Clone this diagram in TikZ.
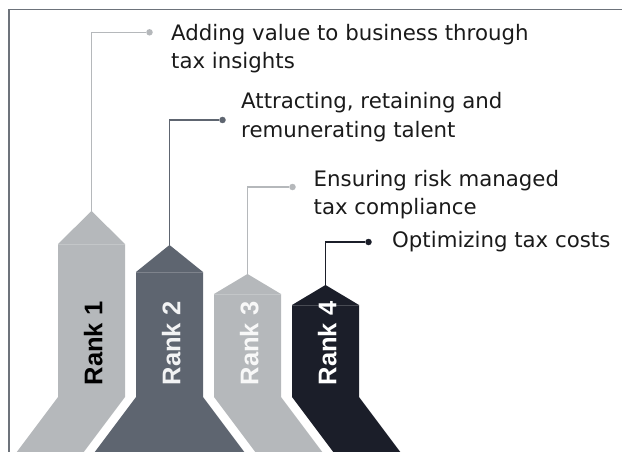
\documentclass[tikz,border=0pt]{standalone}
\usepackage{fontspec}
\usepackage{xcolor}
\setmainfont{DejaVu Sans}
\newfontfamily\rankfont{Liberation Sans}
\definecolor{rankgrey}{HTML}{B5B8BB}
\definecolor{rankslate}{HTML}{5E6570}
\definecolor{ranknavy}{HTML}{1B1E29}
\definecolor{framegrey}{HTML}{6D737B}
\definecolor{inkblack}{HTML}{1A1A1A}

\tikzset{
    leader/.style={line width=1.1pt},
    leaddot/.style={circle, inner sep=0pt, minimum size=6.5pt},
    ranklabel/.style={font=\rankfont\bfseries\fontsize{25.5}{25.5}\selectfont, rotate=90, anchor=base, inner sep=0pt},
    goal/.style={font=\fontsize{21.3}{28.5}\selectfont, text=inkblack, align=left, anchor=north west, inner sep=0pt},
    seam/.style={white, opacity=0.2, line width=0.8pt}
}

\begin{document}
\begin{tikzpicture}[x=1pt, y=-1pt]
    \useasboundingbox (0,0) rectangle (622,452);

    % Frame
    \draw[framegrey, line width=1.5pt] (9,452) -- (9,9.5) -- (622,9.5);

    % Rank 1 arrow
    \fill[rankgrey] (16.75,452) -- (58,397) -- (58,244) -- (91.5,211) -- (125,244) -- (125,397) -- (83.75,452) -- cycle;
    \draw[seam] (58,244) -- (125,244);
    \coordinate (tip1) at (91.5,211);

    % Rank 2 arrow
    \fill[rankslate] (94.75,452) -- (136,397) -- (136,272) -- (169.5,245) -- (203,272) -- (203,397) -- (244.25,452) -- cycle;
    \draw[seam] (136,272) -- (203,272);
    \coordinate (tip2) at (169.5,245);

    % Rank 3 arrow
    \fill[rankgrey] (255.25,452) -- (214,397) -- (214,294) -- (247.5,274) -- (281,294) -- (281,397) -- (322.25,452) -- cycle;
    \draw[seam] (214,294) -- (281,294);
    \coordinate (tip3) at (247.5,274);

    % Rank 4 arrow
    \fill[ranknavy] (333.25,452) -- (292,397) -- (292,305) -- (325.5,285) -- (359,305) -- (359,397) -- (400.25,452) -- cycle;
    \draw[seam] (292,305) -- (359,305);
    \coordinate (tip4) at (325.5,285);

    % Rank labels
    \node[ranklabel, text=black] (rank1) at (102.3,343.5) {Rank 1};
    \node[ranklabel, text=white!92!rankslate] (rank2) at (180.3,343.5) {Rank 2};
    \node[ranklabel, text=white!90!rankgrey] (rank3) at (258.3,343.5) {Rank 3};
    \node[ranklabel, text=white] (rank4) at (336.3,343.5) {Rank 4};

    % Leader dots
    \node[leaddot, fill=rankgrey] (dot1) at (149.5,32.3) {};
    \node[leaddot, fill=rankslate] (dot2) at (222.5,120) {};
    \node[leaddot, fill=rankgrey] (dot3) at (292.5,187) {};
    \node[leaddot, fill=ranknavy] (dot4) at (368.5,242) {};

    % Leaders
    \draw[leader, rankgrey] (tip1) |- (dot1);
    \draw[leader, rankslate] (tip2) |- (dot2);
    \draw[leader, rankgrey] (tip3) |- (dot3);
    \draw[leader, ranknavy] (tip4) |- (dot4);

    % Goals
    \node[goal] (goal1) at (171,23.8) {Adding value to business through\\tax insights};
    \node[goal] (goal2) at (241,92.3) {Attracting, retaining and\\remunerating talent};
    \node[goal] (goal3) at (313.5,169.8) {Ensuring risk managed\\tax compliance};
    \node[goal] (goal4) at (392,230.8) {Optimizing tax costs};
\end{tikzpicture}
\end{document}
